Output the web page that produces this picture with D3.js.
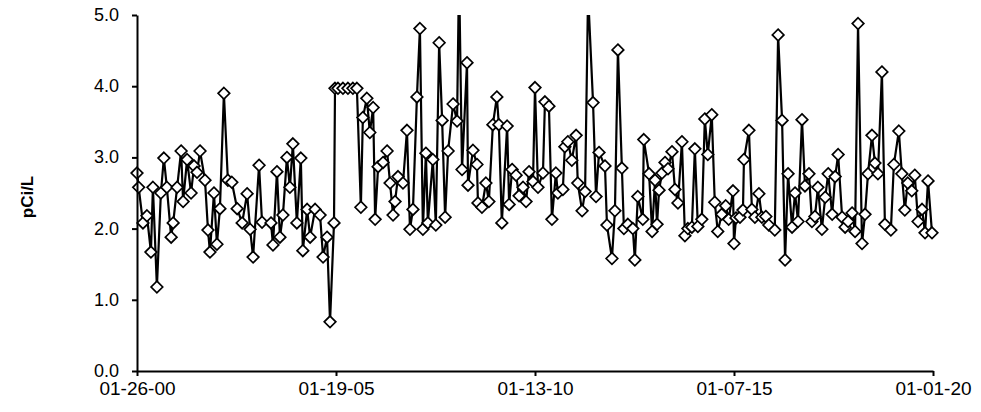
<!DOCTYPE html>
<html lang="en">
    <head>
        <meta charset="utf-8">
        <title>pCi/L</title>
        <script src="https://cdn.jsdelivr.net/npm/d3@7"></script>
        <style>
            body { margin: 0; background: #fff; }
            text { font-family: "Liberation Sans", Arial, sans-serif; fill: #000; }
        </style>
    </head>
    <body>
        <script type="text/javascript">
            // Sample position, in months after the first sample (01-26-00)
            var months = [
                0, 0.5, 1.8, 3.0, 4.2, 4.8, 6.0, 7.2, 8.1, 9.0,
                10.3, 10.9, 12.1, 13.3, 13.9, 15.1, 16.3, 17.2, 18.1, 19.0,
                20.5, 21.4, 22.0, 23.2, 24.1, 25.0, 26.2, 27.4, 28.6, 30.2,
                31.7, 33.2, 34.1, 35.0, 36.8, 37.7, 40.4, 41.0, 42.2, 43.1,
                44.0, 45.2, 46.1, 47.0, 48.2, 49.4, 50.0, 51.3, 52.2, 53.7,
                55.2, 56.1, 57.3, 58.2, 59.4, 59.7, 60.6, 62.1, 63.6, 65.1,
                66.3, 67.5, 68.1, 69.3, 70.2, 71.2, 71.8, 72.7, 74.2, 75.4,
                76.3, 77.2, 77.8, 78.7, 80.2, 81.4, 82.3, 83.2, 84.4, 85.3,
                86.2, 87.1, 87.7, 89.2, 90.1, 91.1, 92.0, 92.9, 93.8, 95.3,
                96.5, 97.1, 98.0, 99.5, 99.8, 101.3, 102.5, 102.8, 104.0, 105.2,
                106.1, 107.3, 108.5, 109.1, 110.0, 111.6, 112.2, 113.1, 114.3, 115.2,
                116.4, 117.3, 118.2, 119.4, 120.0, 120.9, 122.4, 123.0, 124.2, 125.1,
                126.3, 126.9, 128.4, 129.0, 129.9, 131.1, 132.4, 132.9, 134.2, 135.1,
                136.0, 137.5, 138.4, 139.3, 141.1, 141.7, 143.2, 144.1, 145.0, 146.2,
                146.8, 148.0, 149.5, 150.1, 151.0, 152.5, 152.8, 154.4, 155.3, 156.2,
                156.8, 157.4, 158.3, 159.2, 160.1, 161.3, 162.2, 163.1, 164.3, 165.2,
                166.1, 167.3, 168.2, 169.1, 170.3, 171.2, 172.1, 173.3, 174.2, 175.1,
                176.3, 177.5, 178.4, 179.7, 180.0, 180.6, 181.8, 182.7, 183.0, 184.5,
                185.4, 186.3, 187.5, 188.4, 189.6, 190.5, 192.3, 193.3, 194.5, 195.4,
                196.3, 197.5, 198.4, 199.3, 200.5, 201.4, 202.6, 203.5, 204.4, 205.3,
                206.5, 207.5, 208.4, 209.6, 210.5, 211.4, 212.6, 213.5, 214.4, 215.6,
                216.5, 217.4, 218.6, 219.5, 220.4, 221.6, 222.5, 223.4, 224.6, 225.5,
                227.3, 228.2, 229.7, 230.6, 231.5, 232.4, 233.6, 234.5, 235.5, 236.7,
                237.6, 238.5, 239.7
            ];

            // Radon, pCi/L
            var values = [
                2.78, 2.58, 2.08, 2.18, 1.67, 2.58, 1.18, 2.5, 2.99, 2.58,
                1.88, 2.08, 2.58, 3.09, 2.38, 2.97, 2.5, 2.88, 2.79, 3.09,
                2.68, 1.98, 1.67, 2.5, 1.78, 2.28, 3.9, 2.68, 2.65, 2.28,
                2.08, 2.49, 1.99, 1.6, 2.89, 2.09, 2.08, 1.77, 2.8, 1.88,
                2.19, 3.0, 2.58, 3.19, 2.08, 2.99, 1.69, 2.27, 1.88, 2.27,
                2.19, 1.6, 1.88, 0.69, 2.08, 3.97, 3.97, 3.97, 3.97, 3.97,
                3.97, 2.3, 3.56, 3.83, 3.35, 3.7, 2.13, 2.87, 2.93, 3.09,
                2.64, 2.19, 2.38, 2.73, 2.64, 3.38, 1.99, 2.27, 3.85, 4.81,
                1.99, 3.06, 2.08, 2.97, 2.05, 4.61, 3.52, 2.16, 3.09, 3.75,
                3.51, 5.6, 2.83, 4.33, 2.61, 3.1, 2.9, 2.36, 2.3, 2.64,
                2.38, 3.46, 3.85, 3.46, 2.08, 3.44, 2.34, 2.83, 2.75, 2.46,
                2.58, 2.38, 2.8, 2.66, 3.98, 2.58, 2.78, 3.78, 3.72, 2.13,
                2.78, 2.5, 2.55, 3.15, 3.22, 2.96, 3.31, 2.64, 2.25, 2.52,
                5.3, 3.77, 2.45, 3.07, 2.88, 2.05, 1.58, 2.25, 4.51, 2.85,
                2.0, 2.06, 2.0, 1.56, 2.45, 2.13, 3.25, 2.77, 1.96, 2.68,
                2.06, 2.54, 2.78, 2.93, 2.84, 3.08, 2.55, 2.36, 3.22, 1.9,
                2.0, 2.02, 3.12, 2.03, 2.13, 3.54, 3.04, 3.6, 2.37, 1.96,
                2.2, 2.32, 2.13, 2.53, 1.79, 2.15, 2.16, 2.26, 2.97, 3.38,
                2.27, 2.16, 2.49, 2.16, 2.17, 2.05, 1.98, 4.72, 3.52, 1.56,
                2.77, 2.02, 2.5, 2.1, 3.53, 2.6, 2.77, 2.1, 2.17, 2.58,
                1.99, 2.44, 2.77, 2.2, 2.73, 3.04, 2.16, 2.02, 2.1, 2.22,
                1.96, 4.88, 1.79, 2.2, 2.77, 3.31, 2.92, 2.77, 4.2, 2.06,
                1.98, 2.9, 3.37, 2.77, 2.26, 2.64, 2.53, 2.75, 2.1, 2.27,
                1.94, 2.67, 1.94
            ];

            // Axis ticks
            var xTickMonths = [0, 60, 120, 180, 240];
            var xTickLabels = ["01-26-00", "01-19-05", "01-13-10", "01-07-15", "01-01-20"];
            var yTicks = [0, 1, 2, 3, 4, 5];

            var data = months.map(function(m, i) { return [m, values[i]]; });

            // Width and height, plot edges
            var w = 981;
            var h = 412;
            var plotLeft = 137, plotRight = 933, plotTop = 15, plotBottom = 371;

            // Scales
            var xScale = d3.scaleLinear()
                    .domain([0, 240])
                    .range([plotLeft, plotRight]);
            var yScale = d3.scaleLinear()
                    .domain([0, 5])
                    .range([plotBottom, plotTop]);

            var svg = d3.select("body")
                        .append("svg")
                        .attr("width", w)
                        .attr("height", h);

            // Values above 5.0 are cut at the top of the plot
            svg.append("clipPath")
                .attr("id", "plot-clip")
                .append("rect")
                .attr("x", 0)
                .attr("y", plotTop)
                .attr("width", w)
                .attr("height", h - plotTop);

            var plot = svg.append("g").attr("clip-path", "url(#plot-clip)");

            // Line
            var line = d3.line()
                    .x(function(d) { return xScale(d[0]); })
                    .y(function(d) { return yScale(d[1]); });

            plot.append("path")
                .datum(data)
                .attr("d", line)
                .attr("fill", "none")
                .attr("stroke", "#000")
                .attr("stroke-width", 2.2)
                .attr("stroke-linejoin", "miter");

            // Diamond markers
            plot.selectAll("path.marker")
                .data(data)
                .enter()
                .append("path")
                .attr("class", "marker")
                .attr("d", "M0,-5.8L5.8,0L0,5.8L-5.8,0Z")
                .attr("transform", function(d) {
                    return "translate(" + xScale(d[0]) + "," + yScale(d[1]) + ")";
                })
                .attr("fill", "#fff")
                .attr("stroke", "#000")
                .attr("stroke-width", 1.7);

            // X axis
            var xAxis = d3.axisBottom(xScale)
                    .tickValues(xTickMonths)
                    .tickFormat(function(d, i) { return xTickLabels[i]; })
                    .tickSize(5)
                    .tickSizeOuter(0)
                    .tickPadding(6);

            var gx = svg.append("g")
                .attr("transform", "translate(0," + plotBottom + ")")
                .call(xAxis);

            // Y axis
            var yAxis = d3.axisLeft(yScale)
                    .tickValues(yTicks)
                    .tickFormat(d3.format(".1f"))
                    .tickSize(5)
                    .tickSizeOuter(0)
                    .tickPadding(13);

            var gy = svg.append("g")
                .attr("transform", "translate(" + plotLeft + ",0)")
                .call(yAxis);

            [gx, gy].forEach(function(g) {
                g.select(".domain").attr("stroke", "#000").attr("stroke-width", 2);
                g.selectAll(".tick line").attr("stroke", "#000").attr("stroke-width", 2);
            });
            gx.selectAll(".tick text")
                .attr("font-family", "'Liberation Sans', Arial, sans-serif")
                .attr("font-size", 19);
            gy.selectAll(".tick text")
                .attr("font-family", "'Liberation Sans', Arial, sans-serif")
                .attr("font-size", 18)
                .attr("dy", "0.3em");

            // Y axis title
            svg.append("text")
                .attr("transform", "translate(33,197) rotate(-90)")
                .attr("text-anchor", "middle")
                .attr("font-size", 17)
                .attr("font-weight", "bold")
                .text("pCi/L");
        </script>
    </body>
</html>
